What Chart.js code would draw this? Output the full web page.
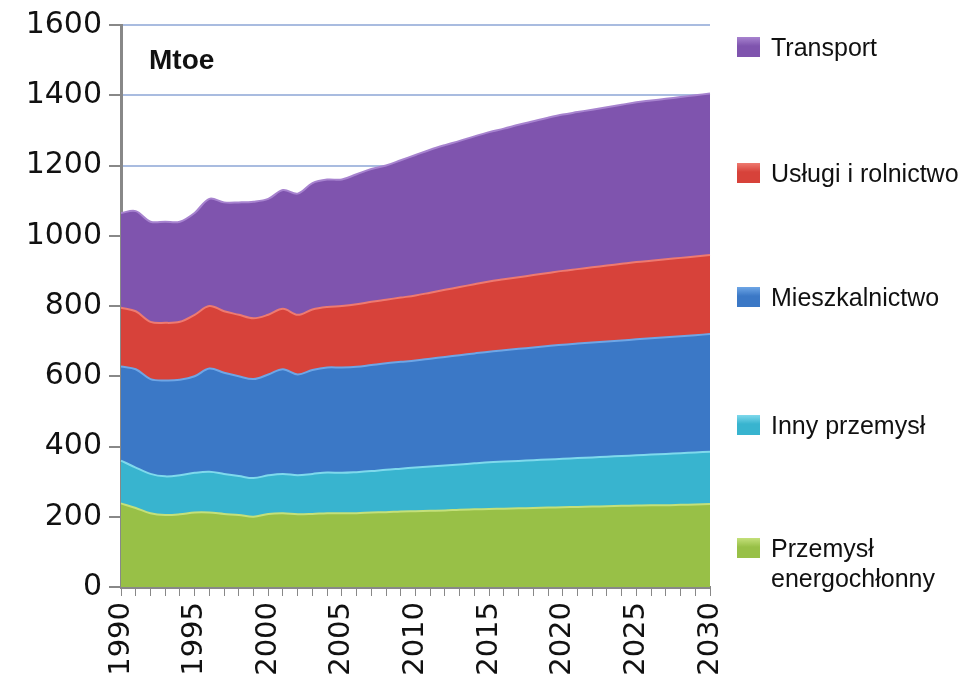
<!DOCTYPE html>
<html>
<head>
<meta charset="utf-8">
<script src="https://cdn.jsdelivr.net/npm/chart.js@4"></script>
<style>
body { margin: 0; background: #fff; }
#wrap { position: relative; width: 969px; height: 693px; }
#legend { position: absolute; left: 737px; top: 0; font-family: "Liberation Sans", Arial, sans-serif; font-size: 25px; color: #111; }
.item { position: absolute; left: 0; display: flex; align-items: flex-start; white-space: nowrap; line-height: 30px; }
.box { width: 23px; height: 20px; margin: 5px 11px 0 0; }
</style>
</head>
<body>
<div id="wrap">
  <canvas id="chart" width="969" height="693"></canvas>
  <div id="legend"></div>
</div>
<script>
const years = [1990,1991,1992,1993,1994,1995,1996,1997,1998,1999,
  2000,2001,2002,2003,2004,2005,2006,2007,2008,2009,
  2010,2011,2012,2013,2014,2015,2016,2017,2018,2019,
  2020,2021,2022,2023,2024,2025,2026,2027,2028,2029,2030];
const labelYears = [1990,1995,2000,2005,2010,2015,2020,2025,2030];

// Mtoe, one value per year
const przemyslEnergochlonny = [238,225,210,205,207,212,212,208,205,200,
  208,210,207,208,210,210,210,212,213,215,
  216,217,218,220,221,222,223,224,225,226,
  227,228,229,230,231,232,233,233,234,235,236];
const innyPrzemysl = [122,115,112,110,111,113,116,114,111,110,
  110,112,111,114,116,115,117,118,121,122,
  124,126,128,129,131,133,134,135,136,137,
  138,139,140,141,142,143,144,146,147,148,149];
const mieszkalnictwo = [268,280,270,273,272,275,294,288,284,282,
  287,298,287,296,299,300,300,302,303,304,
  305,307,309,311,313,315,317,319,321,323,
  325,326,327,328,329,330,331,332,333,334,335];
const uslugiRolnictwo = [167,165,163,164,165,175,178,175,175,173,
  170,172,170,172,172,175,178,180,181,183,
  185,188,191,194,197,200,202,204,206,208,
  210,212,214,216,218,220,221,222,223,224,225];
const transport = [270,285,285,288,285,290,305,310,320,332,
  330,338,345,360,363,360,370,378,382,391,
  400,407,412,416,421,425,429,434,438,442,
  445,447,449,451,453,455,456,457,458,459,460];

const seriesNames = ["Przemysł energochłonny", "Inny przemysł", "Mieszkalnictwo", "Usługi i rolnictwo", "Transport"];
const seriesData = [przemyslEnergochlonny, innyPrzemysl, mieszkalnictwo, uslugiRolnictwo, transport];
const seriesColors = ["#98c047", "#38b4cf", "#3b78c6", "#d7423a", "#7f54ae"];
const seriesEdges = ["#c4e07a", "#7fd9ec", "#6ea6e6", "#ee7a70", "#a783cf"];

const datasets = seriesData.map(function (d, i) {
  return {
    label: seriesNames[i],
    data: d,
    backgroundColor: seriesColors[i],
    borderColor: seriesEdges[i],
    borderWidth: 2,
    fill: i == 0 ? 'origin' : '-1',
    pointRadius: 0,
    tension: 0.35
  };
});

const mtoeLabel = {
  id: 'mtoeLabel',
  afterDatasetsDraw(chart) {
    const ctx = chart.ctx;
    ctx.save();
    ctx.font = 'bold 28px "Liberation Sans", Arial, sans-serif';
    ctx.fillStyle = '#111';
    ctx.textBaseline = 'middle';
    ctx.fillText('Mtoe', chart.chartArea.left + 28, chart.chartArea.top + 36);
    ctx.restore();
  }
};

new Chart('chart', {
  type: 'line',
  data: { labels: years, datasets: datasets },
  options: {
    responsive: false,
    animation: false,
    layout: { padding: { top: 2, right: 259, left: 0, bottom: 0 } },
    plugins: { legend: { display: false }, tooltip: { enabled: false } },
    scales: {
      x: {
        offset: false,
        grid: { drawOnChartArea: false, tickLength: 9, tickColor: '#888', lineWidth: 1 },
        border: { color: '#888', width: 3 },
        ticks: {
          autoSkip: false,
          maxRotation: 90,
          minRotation: 90,
          padding: 6,
          color: '#111',
          font: { family: '"DejaVu Sans", Verdana, sans-serif', size: 29 },
          callback: function (v, idx) {
            return labelYears.includes(years[idx]) ? String(years[idx]) : '';
          }
        },
        afterFit: function (scale) { scale.height = 106; }
      },
      y: {
        stacked: true,
        min: 0,
        max: 1600,
        grid: { color: '#a9bce0', lineWidth: 2, tickLength: 12, tickColor: '#888' },
        border: { color: '#888', width: 3 },
        ticks: {
          stepSize: 200,
          padding: 7,
          color: '#111',
          font: { family: '"DejaVu Sans", Verdana, sans-serif', size: 30 },
          callback: function (v) { return String(v); }
        },
        afterFit: function (scale) { scale.width = 121; }
      }
    }
  },
  plugins: [mtoeLabel]
});

// legend on the right, Transport first
const legendTops = [533, 410, 282, 158, 32];
const legend = document.getElementById('legend');
for (let i = seriesNames.length - 1; i >= 0; i--) {
  const item = document.createElement('div');
  item.className = 'item';
  item.style.top = legendTops[i] + 'px';
  const box = document.createElement('div');
  box.className = 'box';
  box.style.background = 'linear-gradient(' + seriesEdges[i] + ', ' + seriesColors[i] + ' 45%)';
  const text = document.createElement('div');
  text.innerHTML = i == 0 ? 'Przemysł<br>energochłonny' : seriesNames[i];
  item.appendChild(box);
  item.appendChild(text);
  legend.appendChild(item);
}
</script>
</body>
</html>
